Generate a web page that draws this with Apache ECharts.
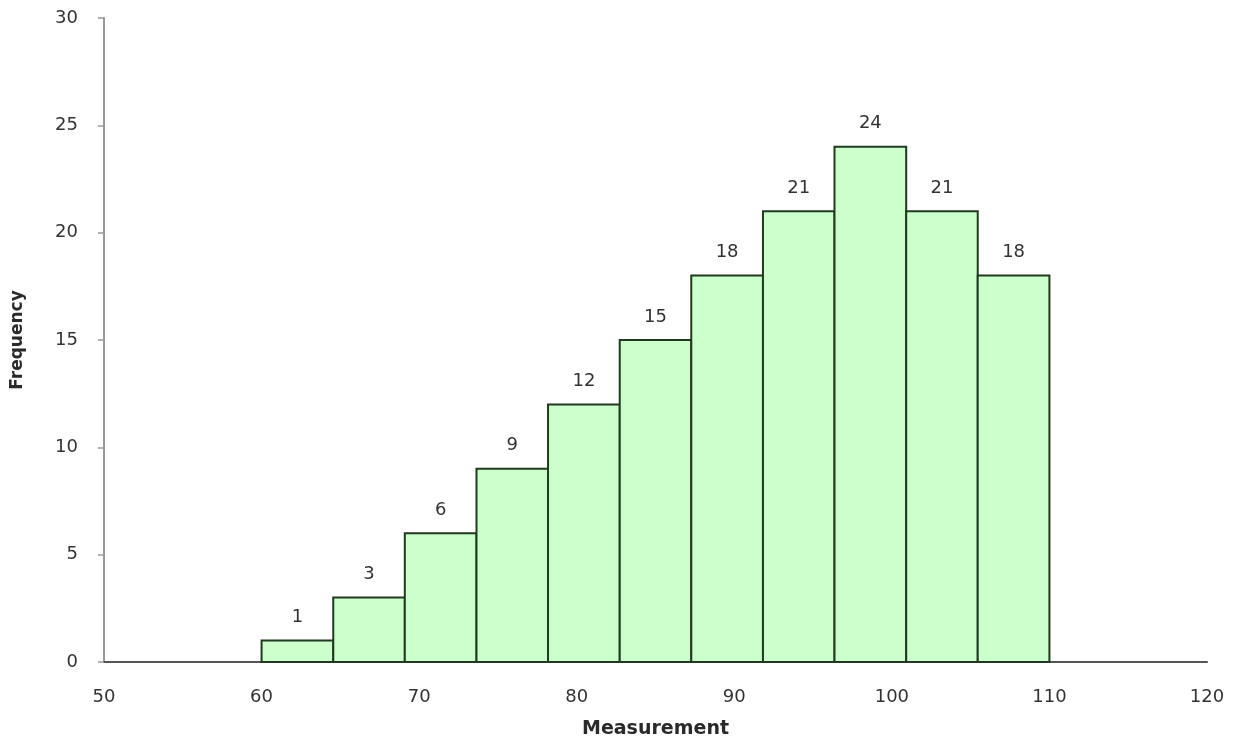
<!DOCTYPE html>
<html>
<head>
<meta charset="utf-8">
<script src="https://cdn.jsdelivr.net/npm/echarts@6/dist/echarts.min.js"></script>
<style>html,body{margin:0;padding:0;background:#fff}#c{width:1234px;height:744px}</style>
</head>
<body>
<div id="c"></div>
<script>
// Bin edges (measurement) and frequencies
const binStarts = [60, 64.55, 69.09, 73.64, 78.18, 82.73, 87.27, 91.82, 96.36, 100.91, 105.45];
const binEnds   = [64.55, 69.09, 73.64, 78.18, 82.73, 87.27, 91.82, 96.36, 100.91, 105.45, 110];
const frequencies = [1, 3, 6, 9, 12, 15, 18, 21, 24, 21, 18];
const xTicks = [50, 120, 10];   // min, max, interval
const yTicks = [0, 30, 5];

const data = binStarts.map((s, i) => [s, binEnds[i], frequencies[i]]);

const chart = echarts.init(document.getElementById('c'));
chart.setOption({
  animation: false,
  grid: { left: 104, right: 27, top: 18, bottom: 81 },
  xAxis: {
    type: 'value', min: xTicks[0], max: xTicks[1], interval: xTicks[2],
    name: 'Measurement', nameLocation: 'middle', nameGap: 58,
    nameTextStyle: { fontFamily: 'DejaVu Sans', fontWeight: 'bold', fontSize: 19, color: '#2a2a2a' },
    axisLine: { show: true, lineStyle: { color: '#555', width: 2 } },
    axisTick: { show: false },
    splitLine: { show: false },
    axisLabel: { margin: 26, fontFamily: 'DejaVu Sans', fontSize: 18, color: '#333' }
  },
  yAxis: {
    type: 'value', min: yTicks[0], max: yTicks[1], interval: yTicks[2],
    name: 'Frequency', nameLocation: 'middle', nameGap: 78, nameRotate: 90,
    nameTextStyle: { fontFamily: 'DejaVu Sans', fontWeight: 'bold', fontSize: 17, color: '#2a2a2a' },
    axisLine: { show: true, lineStyle: { color: '#999', width: 2 } },
    axisTick: { show: true, length: 6, lineStyle: { color: '#999', width: 1.5 } },
    splitLine: { show: false },
    axisLabel: { margin: 26, fontFamily: 'DejaVu Sans', fontSize: 18, color: '#333' }
  },
  series: [{
    type: 'custom',
    data: data,
    renderItem: function (params, api) {
      const p0 = api.coord([api.value(0), 0]);
      const p1 = api.coord([api.value(1), api.value(2)]);
      const x = p0[0], w = p1[0] - p0[0], y = p1[1], h = p0[1] - p1[1];
      return {
        type: 'group',
        children: [
          { type: 'rect', shape: { x: x, y: y, width: w, height: h },
            style: { fill: '#ccffcc', stroke: '#1f3a1f', lineWidth: 2 } },
          { type: 'text', style: { text: String(api.value(2)), x: x + w / 2, y: y - 14,
            textAlign: 'center', textVerticalAlign: 'bottom',
            font: '18px "DejaVu Sans"', fill: '#333' } }
        ]
      };
    }
  }]
});
</script>
</body>
</html>
